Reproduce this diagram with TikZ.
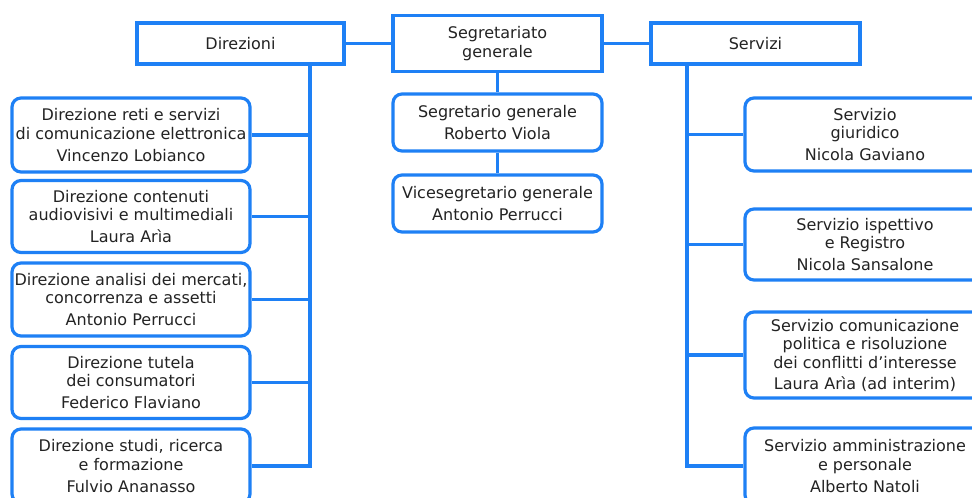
\documentclass[tikz,border=0pt]{standalone}
\usepackage{fontspec}
\setmainfont{DejaVu Sans}
\definecolor{agblue}{RGB}{30,128,245}
\definecolor{agtext}{RGB}{35,35,35}
\tikzset{
  base/.style={draw=agblue, line width=3.2pt, fill=white, text=agtext, align=center,
    inner sep=0pt, font=\fontsize{16}{18.5}\selectfont},
  head/.style={base, rectangle},
  unit/.style={base, rounded corners=9pt},
  link/.style={draw=agblue, line width=3.2pt}
}
\begin{document}
\begin{tikzpicture}[x=1pt,y=-1pt]
\useasboundingbox (0,0) rectangle (972,498);
\clip (0,0) rectangle (972,498);
\fill[white] (0,0) rectangle (972,498);
% spines
\coordinate (dspine) at (310,0);
\coordinate (sspine) at (687,0);
% headers
\node[head, minimum width=207pt, minimum height=41pt] (dir) at (240.5,43.5) {Direzioni};
\node[head, minimum width=209pt, minimum height=56pt] (seg) at (497.5,43.5) {Segretariato\\generale};
\node[head, minimum width=209pt, minimum height=41pt] (serv) at (755.5,43.5) {Servizi};
% centre
\node[unit, minimum width=209pt, minimum height=57pt] (sg) at (497.5,122.5) {Segretario generale\\[3pt]Roberto Viola};
\node[unit, minimum width=209pt, minimum height=57pt] (vsg) at (497.5,203.5) {Vicesegretario generale\\[3pt]Antonio Perrucci};
% left
\node[unit, minimum width=238pt, minimum height=74pt] (d1) at (131,135) {Direzione reti e servizi\\di comunicazione elettronica\\[3.5pt]Vincenzo Lobianco};
\node[unit, minimum width=238pt, minimum height=72pt] (d2) at (131,216.5) {Direzione contenuti\\audiovisivi e multimediali\\[3.5pt]Laura Arìa};
\node[unit, minimum width=238pt, minimum height=73pt] (d3) at (131,299.5) {Direzione analisi dei mercati,\\concorrenza e assetti\\[3.5pt]Antonio Perrucci};
\node[unit, minimum width=238pt, minimum height=72pt] (d4) at (131,382.5) {Direzione tutela\\dei consumatori\\[3.5pt]Federico Flaviano};
\node[unit, minimum width=238pt, minimum height=74pt] (d5) at (131,466) {Direzione studi, ricerca\\e formazione\\[3.5pt]Fulvio Ananasso};
% right
\node[unit, minimum width=240pt, minimum height=73pt] (s1) at (865,134.5) {Servizio\\giuridico\\[3.5pt]Nicola Gaviano};
\node[unit, minimum width=240pt, minimum height=71pt] (s2) at (865,244.5) {Servizio ispettivo\\e Registro\\[3.5pt]Nicola Sansalone};
\node[unit, minimum width=240pt, minimum height=86pt] (s3) at (865,355) {Servizio comunicazione\\politica e risoluzione\\dei conflitti d’interesse\\[2.5pt]Laura Arìa (ad interim)};
\node[unit, minimum width=240pt, minimum height=76pt] (s4) at (865,466) {Servizio amministrazione\\e personale\\[3.5pt]Alberto Natoli};
% connectors
\draw[link] (dir.east) -- (seg.west);
\draw[link] (seg.east) -- (serv.west);
\draw[link] (seg.south) -- (sg.north);
\draw[link] (sg.south) -- (vsg.north);
\draw[link] (dir.south -| dspine) -- ([yshift=-1.6pt]d5.east -| dspine);
\foreach \n in {d1,d2,d3,d4} \draw[link] (\n.east) -- (\n.east -| dspine);
\draw[link] (d5.east) -- ([xshift=1.6pt]d5.east -| dspine);
\draw[link] (serv.south -| sspine) -- ([yshift=-1.6pt]s4.west -| sspine);
\foreach \n in {s1,s2,s3} \draw[link] (\n.west) -- (\n.west -| sspine);
\draw[link] (s4.west) -- ([xshift=-1.6pt]s4.west -| sspine);
\end{tikzpicture}
\end{document}
